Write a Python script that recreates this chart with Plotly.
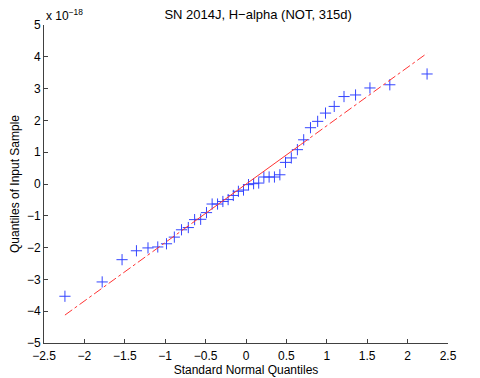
import numpy as np
import plotly.graph_objects as go

# standard normal quantiles (n = 40)
normal_quantiles = [
    -2.241, -1.780, -1.534, -1.356, -1.213, -1.092, -0.984, -0.887, -0.798, -0.714,
    -0.636, -0.561, -0.489, -0.419, -0.352, -0.286, -0.221, -0.157, -0.094, -0.031,
    0.031, 0.094, 0.157, 0.221, 0.286, 0.352, 0.419, 0.489, 0.561, 0.636,
    0.714, 0.798, 0.887, 0.984, 1.092, 1.213, 1.356, 1.534, 1.780, 2.241,
]
# sample quantiles, in units of 1e-18
sample_quantiles = [
    -3.53, -3.08, -2.38, -2.10, -2.01, -1.98, -1.88, -1.67, -1.44, -1.37,
    -1.12, -1.11, -0.90, -0.63, -0.63, -0.55, -0.49, -0.36, -0.23, -0.19,
    -0.02, 0.01, 0.03, 0.22, 0.22, 0.22, 0.29, 0.68, 0.82, 1.08,
    1.39, 1.77, 1.97, 2.23, 2.44, 2.75, 2.80, 3.02, 3.12, 3.46,
]
x_ticks = [-2.5, -2, -1.5, -1, -0.5, 0, 0.5, 1, 1.5, 2, 2.5]
y_ticks = [-5, -4, -3, -2, -1, 0, 1, 2, 3, 4, 5]

title = "SN 2014J, H\u2212alpha (NOT, 315d)"
font = "Liberation Sans, Arial, sans-serif"

# reference line through the first and third quartiles (as qqplot does,
# with the midpoint percentile rule)
xq = np.percentile(normal_quantiles, [25, 75], method="hazen")
yq = np.percentile(sample_quantiles, [25, 75], method="hazen")
slope = (yq[1] - yq[0]) / (xq[1] - xq[0])
x_ends = [min(normal_quantiles), max(normal_quantiles)]


def line_y(x):
    return yq[0] + slope * (x - xq[0])


def minus(v):
    return f"{v:g}".replace("-", "\u2212")


fig = go.Figure()
fig.add_trace(go.Scatter(
    x=normal_quantiles, y=sample_quantiles, mode="markers",
    marker=dict(symbol="cross-thin", size=8, line=dict(color="#3344ff", width=1)),
    showlegend=False,
))
for xa, xb in [(x_ends[0], xq[0]), (xq[1], x_ends[1])]:
    fig.add_trace(go.Scatter(
        x=[xa, xb], y=[line_y(xa), line_y(xb)], mode="lines",
        line=dict(color="#ff3333", width=1, dash="dashdot"), showlegend=False,
    ))
fig.add_trace(go.Scatter(
    x=list(xq), y=[line_y(xq[0]), line_y(xq[1])], mode="lines",
    line=dict(color="#ff3333", width=1), showlegend=False,
))

axis_common = dict(
    showgrid=False, zeroline=False, showline=True, linecolor="#404040", linewidth=1,
    ticks="inside", ticklen=4, tickcolor="#404040", mirror=False, automargin=False,
    tickfont=dict(size=12, color="#000000", family=font),
)
fig.update_xaxes(
    range=[-2.5, 2.5], tickvals=x_ticks, ticktext=[minus(v) for v in x_ticks],
    ticklabelstandoff=2,
    title=dict(text="Standard Normal Quantiles", font=dict(size=12, color="#000000", family=font), standoff=0),
    **axis_common,
)
fig.update_yaxes(
    range=[-5, 5], tickvals=y_ticks, ticktext=[minus(v) for v in y_ticks],
    title=dict(text="Quantiles of Input Sample", font=dict(size=12, color="#000000", family=font), standoff=4),
    **axis_common,
)
fig.add_annotation(
    text="x 10<sup>\u221218</sup>", xref="paper", yref="paper", x=0, y=1,
    xanchor="left", yanchor="bottom", showarrow=False, yshift=0,
    font=dict(size=12, color="#000000", family=font),
)
# the page body adds an 8px margin, so the figure is 8px smaller on each axis
fig.update_layout(
    width=472, height=370,
    margin=dict(l=36, r=32, t=17, b=35, autoexpand=False),
    paper_bgcolor="white", plot_bgcolor="white",
    title=dict(text=title, x=0.53, xanchor="center", y=0.994, yanchor="top",
               font=dict(size=13, color="#000000", family=font)),
    font=dict(family=font),
)
fig.write_html("out.html")
